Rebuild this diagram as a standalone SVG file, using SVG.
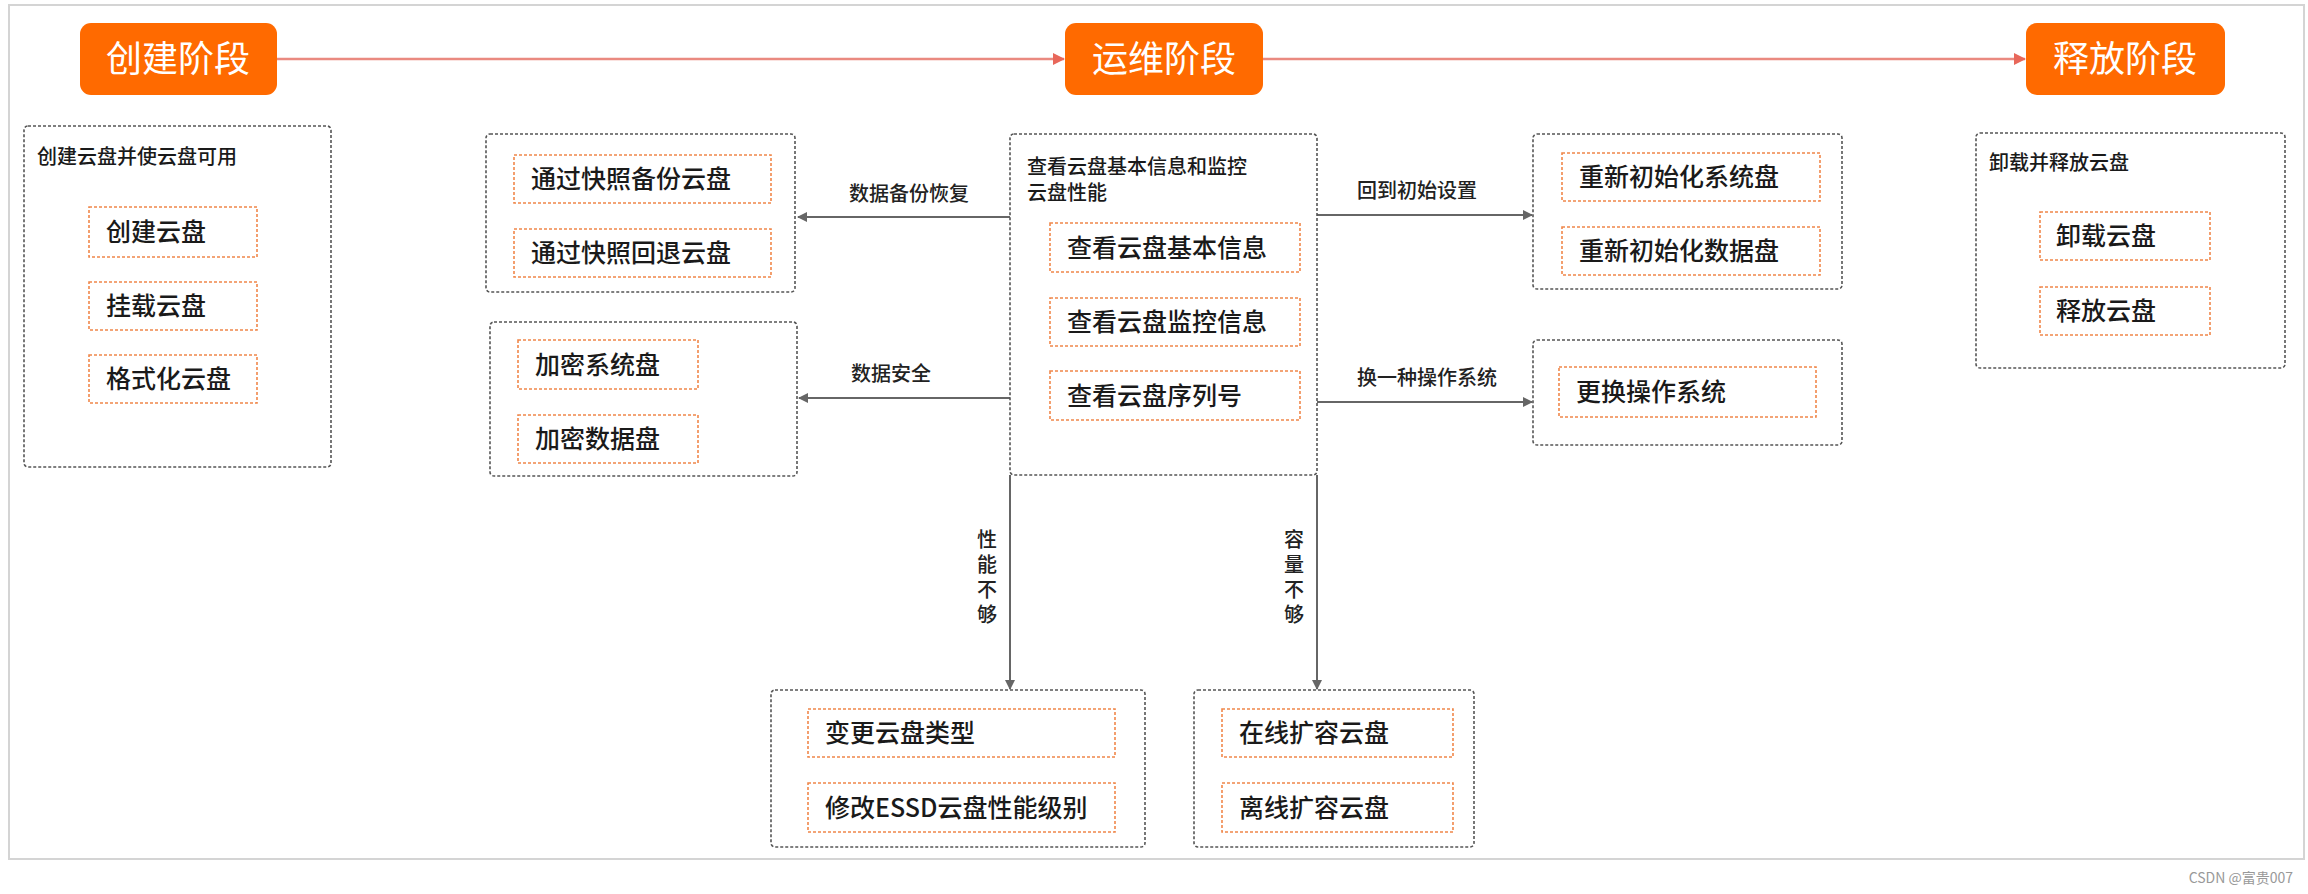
<svg xmlns="http://www.w3.org/2000/svg" width="2308" height="894" viewBox="0 0 2308 894">
<style>
text{font-family:"Noto Sans CJK SC","Noto Sans",sans-serif;fill:#1a1a1a}
.stage rect{fill:#ff6a00}
.stage text{fill:#fff;font-size:36px;text-anchor:middle}
.grp{fill:#fff;stroke:#555;stroke-width:1.6;stroke-dasharray:3 2}
.item{fill:#fff;stroke:#f0874a;stroke-width:1.6;stroke-dasharray:3 2}
.it{font-size:25px;font-weight:500}
.gl{font-size:20px;font-weight:500}
.cl{font-size:20px;fill:#222;font-weight:500}
.conn{stroke:#666;stroke-width:2;fill:none}
.sarrow{stroke:#ea8a80;stroke-width:2.5;fill:none}
</style>
<defs>
<marker id="ag" markerWidth="10" markerHeight="10" refX="9" refY="5" orient="auto" markerUnits="userSpaceOnUse"><path d="M0,0 L10,5 L0,10 z" fill="#666"/></marker>
<marker id="ar" markerWidth="12" markerHeight="12" refX="11" refY="6" orient="auto" markerUnits="userSpaceOnUse"><path d="M0,0 L12,6 L0,12 z" fill="#e8675a"/></marker>
</defs>
<rect x="9" y="5" width="2295" height="854" fill="#fff" stroke="#d4d4d4" stroke-width="2"/>

<g id="connectors">
<line class="sarrow" x1="277" y1="59" x2="1064" y2="59" marker-end="url(#ar)"/>
<line class="sarrow" x1="1263" y1="59" x2="2025" y2="59" marker-end="url(#ar)"/>
<line class="conn" x1="1010" y1="217" x2="798" y2="217" marker-end="url(#ag)"/>
<text class="cl" x="849" y="201">数据备份恢复</text>
<line class="conn" x1="1010" y1="398" x2="799" y2="398" marker-end="url(#ag)"/>
<text class="cl" x="851" y="381">数据安全</text>
<line class="conn" x1="1317" y1="215" x2="1532" y2="215" marker-end="url(#ag)"/>
<text class="cl" x="1357" y="198">回到初始设置</text>
<line class="conn" x1="1317" y1="402" x2="1532" y2="402" marker-end="url(#ag)"/>
<text class="cl" x="1357" y="385">换一种操作系统</text>
<line class="conn" x1="1010" y1="475" x2="1010" y2="689" marker-end="url(#ag)"/>
<g text-anchor="middle"><text class="cl" x="987" y="547">性</text><text class="cl" x="987" y="572">能</text><text class="cl" x="987" y="597">不</text><text class="cl" x="987" y="622">够</text></g>
<line class="conn" x1="1317" y1="475" x2="1317" y2="689" marker-end="url(#ag)"/>
<g text-anchor="middle"><text class="cl" x="1294" y="547">容</text><text class="cl" x="1294" y="572">量</text><text class="cl" x="1294" y="597">不</text><text class="cl" x="1294" y="622">够</text></g>
</g>

<g id="stage-create" class="stage"><rect x="80" y="23" width="197" height="72" rx="11"/><text x="178" y="72">创建阶段</text></g>
<g id="stage-ops" class="stage"><rect x="1065" y="23" width="198" height="72" rx="11"/><text x="1164" y="72">运维阶段</text></g>
<g id="stage-release" class="stage"><rect x="2026" y="23" width="199" height="72" rx="11"/><text x="2125" y="72">释放阶段</text></g>

<g id="grp-create">
<rect class="grp" x="24" y="126" width="307" height="341" rx="4"/>
<text class="gl" x="37" y="164">创建云盘并使云盘可用</text>
<rect class="item" x="89" y="207" width="168" height="50"/><text class="it" x="106" y="241">创建云盘</text>
<rect class="item" x="89" y="282" width="168" height="48"/><text class="it" x="106" y="315">挂载云盘</text>
<rect class="item" x="89" y="355" width="168" height="48"/><text class="it" x="106" y="388">格式化云盘</text>
</g>

<g id="grp-snapshot">
<rect class="grp" x="486" y="134" width="309" height="158" rx="4"/>
<rect class="item" x="514" y="155" width="257" height="48"/><text class="it" x="531" y="188">通过快照备份云盘</text>
<rect class="item" x="514" y="229" width="257" height="48"/><text class="it" x="531" y="262">通过快照回退云盘</text>
</g>

<g id="grp-encrypt">
<rect class="grp" x="490" y="322" width="307" height="154" rx="4"/>
<rect class="item" x="518" y="340" width="180" height="49"/><text class="it" x="535" y="374">加密系统盘</text>
<rect class="item" x="518" y="415" width="180" height="48"/><text class="it" x="535" y="448">加密数据盘</text>
</g>

<g id="grp-ops">
<rect class="grp" x="1010" y="134" width="307" height="341" rx="4"/>
<text class="gl" x="1027" y="174">查看云盘基本信息和监控</text>
<text class="gl" x="1027" y="200">云盘性能</text>
<rect class="item" x="1050" y="223" width="250" height="49"/><text class="it" x="1067" y="257">查看云盘基本信息</text>
<rect class="item" x="1050" y="298" width="250" height="48"/><text class="it" x="1067" y="331">查看云盘监控信息</text>
<rect class="item" x="1050" y="371" width="250" height="49"/><text class="it" x="1067" y="405">查看云盘序列号</text>
</g>

<g id="grp-reinit">
<rect class="grp" x="1533" y="134" width="309" height="155" rx="4"/>
<rect class="item" x="1562" y="153" width="258" height="48"/><text class="it" x="1579" y="186">重新初始化系统盘</text>
<rect class="item" x="1562" y="227" width="258" height="48"/><text class="it" x="1579" y="260">重新初始化数据盘</text>
</g>

<g id="grp-changeos">
<rect class="grp" x="1533" y="340" width="309" height="105" rx="4"/>
<rect class="item" x="1559" y="367" width="257" height="50"/><text class="it" x="1576" y="401">更换操作系统</text>
</g>

<g id="grp-release">
<rect class="grp" x="1976" y="133" width="309" height="235" rx="4"/>
<text class="gl" x="1989" y="170">卸载并释放云盘</text>
<rect class="item" x="2040" y="212" width="170" height="48"/><text class="it" x="2056" y="245">卸载云盘</text>
<rect class="item" x="2040" y="287" width="170" height="48"/><text class="it" x="2056" y="320">释放云盘</text>
</g>

<g id="grp-perf">
<rect class="grp" x="771" y="690" width="374" height="157" rx="4"/>
<rect class="item" x="808" y="709" width="307" height="48"/><text class="it" x="825" y="742">变更云盘类型</text>
<rect class="item" x="808" y="783" width="307" height="49"/><text class="it" x="825" y="817">修改ESSD云盘性能级别</text>
</g>

<g id="grp-capacity">
<rect class="grp" x="1194" y="690" width="280" height="157" rx="4"/>
<rect class="item" x="1222" y="709" width="231" height="48"/><text class="it" x="1239" y="742">在线扩容云盘</text>
<rect class="item" x="1222" y="783" width="231" height="49"/><text class="it" x="1239" y="817">离线扩容云盘</text>
</g>

<text x="2293" y="883" text-anchor="end" style="font-size:14px;fill:#999">CSDN @富贵007</text>
</svg>
